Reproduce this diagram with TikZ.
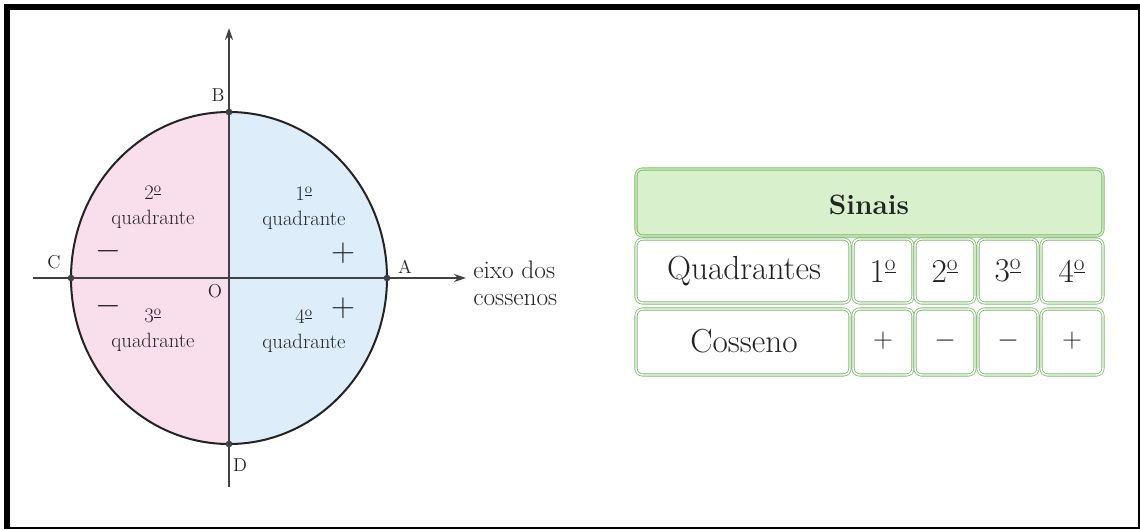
\documentclass[tikz,border=0pt]{standalone}
\usetikzlibrary{arrows.meta}
\newcommand\setfs[1]{\fontsize{#1}{1.2\dimexpr #1pt\relax}\selectfont}
\newcommand\ordo{\textsuperscript{\underline{o}}}
\definecolor{pinkq}{RGB}{249,223,235}
\definecolor{blueq}{RGB}{221,238,250}
\definecolor{axisc}{RGB}{65,65,65}
\definecolor{tabline}{RGB}{125,185,108}
\definecolor{tabhead}{RGB}{216,240,204}
\definecolor{txt}{RGB}{35,35,35}
\tikzset{
  axisline/.style={draw=axisc, line width=1.2pt, -{Stealth[length=9pt,width=6pt]}},
  ptdot/.style={circle, fill=axisc, inner sep=0pt, minimum size=5pt},
  ptlabel/.style={font=\setfs{14}, text=txt, inner sep=0pt},
  qlabel/.style={font=\fontsize{15.5}{18.5}\selectfont, text=txt, align=center, inner sep=0pt},
  signbig/.style={font=\setfs{26}, text=txt, inner sep=0pt},
  cellbox/.style={draw=tabline, line width=0.6pt, double=white, double distance=1.1pt, rounded corners=5pt},
  headbox/.style={cellbox, double=tabhead, fill=tabhead},
  celltext/.style={font=\setfs{25}, text=txt, inner sep=0pt},
  cellsign/.style={font=\setfs{21}, text=txt, inner sep=0pt}
}
\begin{document}
\begin{tikzpicture}[x=0.75pt,y=-0.75pt]
\useasboundingbox (0,0) rectangle (1140,529);
% frame
\fill[black] (4,4) rectangle (1140,10);
\fill[black] (4,4) rectangle (10,529);
\fill[black] (1137.5,4) rectangle (1140,529);
\fill[black] (4,527) rectangle (1140,529);
% circle
\coordinate (O) at (229,278);
\coordinate (A) at (387,278);
\coordinate (B) at (229,112);
\coordinate (C) at (71,278);
\coordinate (D) at (229,444);
\coordinate (xL) at (33,278);
\coordinate (xR) at (466,278);
\coordinate (yB) at (229,487);
\coordinate (yT) at (229,28);
\begin{scope}
\clip (O) ellipse [x radius=158, y radius=166];
\fill[pinkq] (60,100) rectangle (229,460);
\fill[blueq] (229,100) rectangle (400,460);
\end{scope}
\draw[draw=txt, line width=1.5pt] (O) ellipse [x radius=158, y radius=166];
\draw[axisline] (xL) -- (xR);
\draw[axisline] (yB) -- (yT);
\foreach \p in {A,B,C,D} \node[ptdot] at (\p) {};
\node[ptlabel] (lB) at (218,95) {B};
\node[ptlabel] (lC) at (54,262) {C};
\node[ptlabel] (lA) at (405,267) {A};
\node[ptlabel] (lD) at (240,465) {D};
\node[ptlabel] (lO) at (215,291) {O};
\node[qlabel] (q2) at (153,207) {2\ordo\\quadrante};
\node[qlabel] (q1) at (304,208) {1\ordo\\quadrante};
\node[qlabel] (q3) at (153,330) {3\ordo\\quadrante};
\node[qlabel] (q4) at (304,331) {4\ordo\\quadrante};
\node[signbig] (m2) at (108,251) {$-$};
\node[signbig] (m3) at (108,306) {$-$};
\node[signbig] (p1) at (343,253) {$+$};
\node[signbig] (p4) at (343,308) {$+$};
\node[font=\fontsize{19}{20}\selectfont, text=txt, align=left, anchor=west, inner sep=0pt] (eixo) at (473,283) {eixo dos\\cossenos};
% table
\draw[headbox] (636,169) rectangle (1103,236);
\foreach \r/\t/\b in {2/239/303,3/309/375}{
  \draw[cellbox] (636,\t) rectangle (850,\b);
  \draw[cellbox] (853,\t) rectangle (913,\b);
  \draw[cellbox] (915,\t) rectangle (975,\b);
  \draw[cellbox] (978,\t) rectangle (1038,\b);
  \draw[cellbox] (1041,\t) rectangle (1103,\b);
}
\node[font=\bfseries\setfs{21}, text=txt, inner sep=0pt] (sinais) at (869,205) {Sinais};
\node[celltext] (quad) at (744,271) {Quadrantes};
\node[celltext] (c1) at (883,271) {1\ordo};
\node[celltext] (c2) at (945,271) {2\ordo};
\node[celltext] (c3) at (1008,271) {3\ordo};
\node[celltext] (c4) at (1072,271) {4\ordo};
\node[celltext] (cos) at (744,341) {Cosseno};
\node[cellsign] (s1) at (883,341) {$+$};
\node[cellsign] (s2) at (945,341) {$-$};
\node[cellsign] (s3) at (1008,341) {$-$};
\node[cellsign] (s4) at (1072,341) {$+$};
\end{tikzpicture}
\end{document}
